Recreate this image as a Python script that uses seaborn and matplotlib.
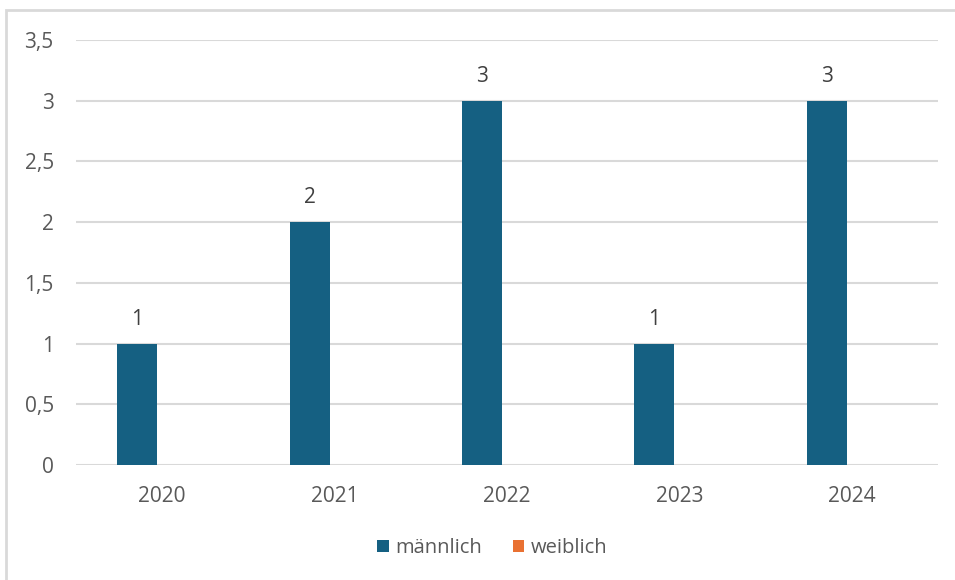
import numpy as np
import pandas as pd
import seaborn as sns
from matplotlib import pyplot as plt
from matplotlib.patches import Rectangle
from matplotlib.ticker import FuncFormatter, MultipleLocator

# data
jahre = ["2020", "2021", "2022", "2023", "2024"]
maennlich = [1, 2, 3, 1, 3]
weiblich = [0, 0, 0, 0, 0]
serien = ["männlich", "weiblich"]
farben = ["#156082", "#E97132"]

df = pd.DataFrame({
	"Jahr": jahre * 2,
	"Wert": maennlich + weiblich,
	"Geschlecht": [serien[0]] * len(jahre) + [serien[1]] * len(jahre),
})

sns.set_theme(style="white")
plt.rcParams['font.family'] = ['Open Sans', 'DejaVu Sans']
txt = "#595959"
fs = 15

fig = plt.figure(figsize=(9.55, 5.8), dpi=100)
ax = fig.add_axes([76/955, 1 - 465/580, (938-76)/955, (465-40)/580])

sns.barplot(data=df, x="Jahr", y="Wert", hue="Geschlecht", palette=farben,
	width=0.58, gap=0.2, saturation=1, linewidth=0, ax=ax, legend=True)

ax.set_ylim(0, 3.5)
ax.yaxis.set_major_locator(MultipleLocator(0.5))
ax.yaxis.set_major_formatter(FuncFormatter(lambda v, p: ("%g" % v).replace(".", ",")))
ax.grid(axis="y", color="#D9D9D9", linewidth=1.5)
ax.set_axisbelow(True)
for s in ax.spines.values():
	s.set_visible(False)
ax.set_xlabel("")
ax.set_ylabel("")
ax.tick_params(axis="both", length=0, labelsize=fs, labelcolor=txt)
ax.tick_params(axis="y", pad=16)
ax.tick_params(axis="x", pad=15)

# data labels only for männlich
ax.bar_label(ax.containers[0], labels=[str(v) for v in maennlich], padding=10,
	fontsize=fs, color="#404040")

leg = ax.legend(loc="center", bbox_to_anchor=(0.483, -0.195), ncol=2, frameon=False,
	fontsize=14.5, handlelength=0.55, handleheight=0.55, columnspacing=1.5, handletextpad=0.35)
for t in leg.get_texts():
	t.set_color(txt)

# chart frame
fig.patches.append(Rectangle((6/955, -1), 2, 2 - 10/580, transform=fig.transFigure,
	fill=False, edgecolor="#D9D9D9", linewidth=2))

fig.savefig("out.png", dpi=100)
